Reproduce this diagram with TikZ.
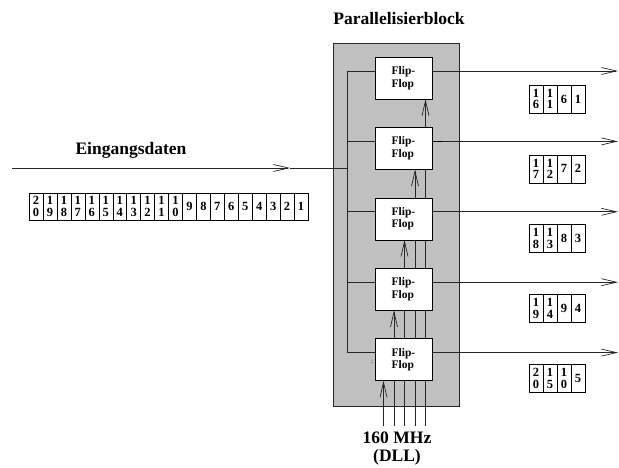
\documentclass[tikz,border=0pt]{standalone}
\usepackage{fontspec}
\setmainfont{Liberation Serif}
\usetikzlibrary{arrows.meta, positioning, backgrounds}
\definecolor{blockgray}{HTML}{C0C0C0}

\begin{document}
\begin{tikzpicture}[x=1pt, y=-1pt,
  node distance=28pt,
  ff/.style={draw, fill=white, minimum width=57pt, minimum height=42pt, inner sep=0pt, align=left, font=\fontsize{11.5}{12.5}\selectfont\bfseries},
  cell/.style={draw, fill=white, minimum width=13.95pt, minimum height=27pt, inner sep=0pt, outer sep=0pt, align=center, font=\fontsize{12.5}{11.5}\selectfont\bfseries},
  wire/.style={line width=0.7pt, draw=black!85},
  arr/.style={wire, -{Straight Barb[length=15pt, width=7pt]}},
  lbl/.style={font=\fontsize{17.5}{19}\selectfont\bfseries}
]
\useasboundingbox (0,0) rectangle (619,468);

% flip-flops of the block
\node[ff] (ff1) at (403.5,78) {Flip-\\Flop};
\node[ff, below=of ff1] (ff2) {Flip-\\Flop};
\node[ff, below=of ff2] (ff3) {Flip-\\Flop};
\node[ff, below=of ff3] (ff4) {Flip-\\Flop};
\node[ff, below=of ff4] (ff5) {Flip-\\Flop};
\node[font=\fontsize{7}{7}\selectfont] (dots) at (372,362) {:};

\coordinate (bus) at (347,0);
\coordinate (edge) at (618,0);
\coordinate (clk) at (0,426);
\coordinate (src) at (12,168);
\coordinate (mid) at (290,168);

\begin{scope}[on background layer]
\draw[wire, fill=blockgray] (333.5,43) rectangle (459,406);
% clock lines
\foreach \k/\dx in {1/-20, 2/-9.5, 3/1, 4/11.5, 5/22} {
  \pgfmathtruncatemacro\t{6-\k}
  \coordinate (ct\k) at ([xshift=\dx pt]ff\t.south);
  \draw[arr] (ct\k |- clk) -- (ct\k);
}
\end{scope}

% data in
\draw[arr] (src) -- (mid);
\draw[wire] (mid) -- (bus |- mid);
\foreach \i in {1,...,5} {
  \coordinate (in\i) at ([yshift=7pt]ff\i.west);
  \coordinate (out\i) at ([yshift=7pt]ff\i.east);
  \draw[wire] (bus |- in\i) -- (in\i);
  \draw[arr] (out\i) -- (edge |- out\i);
}
\draw[wire] (bus |- in1) -- (bus |- in5);
\draw[line width=1.5pt] (out2) -- ++(10,0);

% input word
\foreach \t [count=\i] in {{2\\0},{1\\9},{1\\8},{1\\7},{1\\6},{1\\5},{1\\4},{1\\3},{1\\2},{1\\1},{1\\0},9,8,7,6,5,4,3,2,1}
  \node[cell] (d\i) at ({29+6.975+(\i-1)*13.95},206.5) {\t};

% output words
\foreach \r/\a/\b/\c/\d in {1/{1\\6}/{1\\1}/6/1, 2/{1\\7}/{1\\2}/7/2, 3/{1\\8}/{1\\3}/8/3, 4/{1\\9}/{1\\4}/9/4, 5/{2\\0}/{1\\5}/{1\\0}/5} {
  \node[cell, minimum width=14pt, minimum height=28pt] (r\r a) at (536,{99+(\r-1)*69.8}) {\a};
  \node[cell, minimum width=14pt, minimum height=28pt] (r\r b) at (550,{99+(\r-1)*69.8}) {\b};
  \node[cell, minimum width=14pt, minimum height=28pt] (r\r c) at (564,{99+(\r-1)*69.8}) {\c};
  \node[cell, minimum width=14pt, minimum height=28pt] (r\r d) at (578,{99+(\r-1)*69.8}) {\d};
}

\node[lbl] (title) at (399,19) {Parallelisierblock};
\node[lbl] (inlbl) at (131,150) {Eingangsdaten};
\node[lbl] (freq) at (397,438) {160 MHz};
\node[lbl] (dll) at (397,457) {(DLL)};
\end{tikzpicture}
\end{document}
